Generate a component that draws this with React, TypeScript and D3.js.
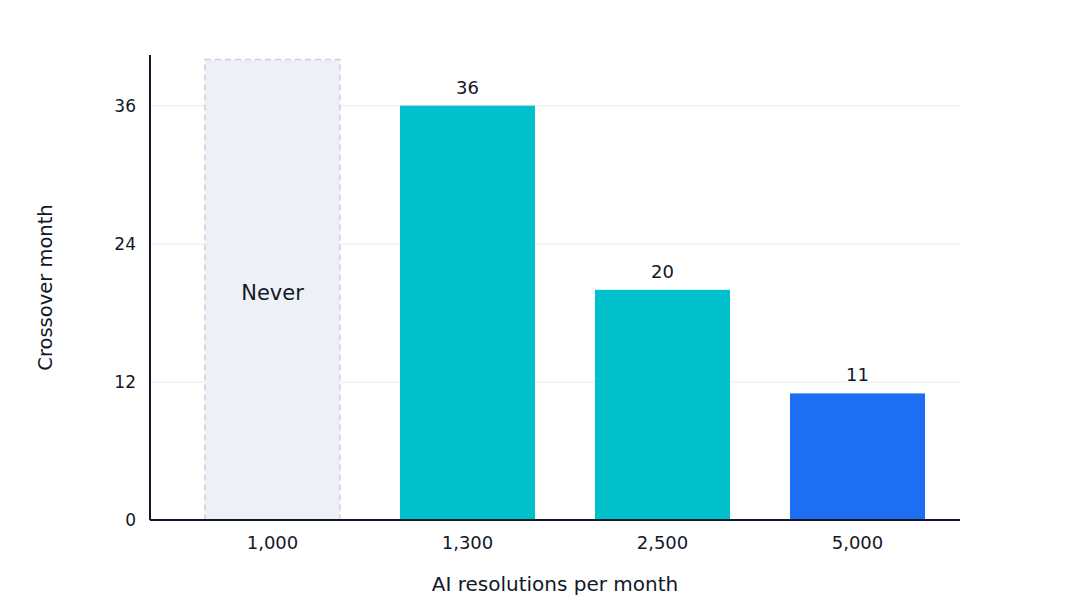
import { useEffect, useRef } from "react"
import * as d3 from "d3"

// categories and values
const volumes: string[] = ["1,000", "1,300", "2,500", "5,000"]
const crossover: (number | null)[] = [null, 36, 20, 11]
const barColors: string[] = ["#EDF0F5", "#00C1CB", "#00C1CB", "#1D6EF2"]
const yTicks: number[] = [0, 12, 24, 36]
const neverHeight = 40
const yMax = 40.4

export default function App() {
  const svgRef = useRef<SVGSVGElement>(null)

  useEffect(() => {
    if (!svgRef.current) return
    const svg = d3.select(svgRef.current)
    svg.selectAll("*").remove()

    const width = 1088
    const height = 608
    const plot = { left: 150, right: 960, top: 55, bottom: 520 }
    const font = "'DejaVu Sans', sans-serif"
    const ink = "#111827"

    svg.attr("width", width).attr("height", height).attr("viewBox", [0, 0, width, height])

    const x = d3
      .scaleBand<string>()
      .domain(volumes)
      .range([175, 955])
      .paddingInner(60 / 195)
      .paddingOuter(30 / 195)

    const y = d3.scaleLinear().domain([0, yMax]).range([plot.bottom, plot.top])

    // gridlines
    svg
      .append("g")
      .selectAll("line")
      .data(yTicks.filter((t) => t > 0))
      .join("line")
      .attr("x1", plot.left)
      .attr("x2", plot.right)
      .attr("y1", (d) => y(d))
      .attr("y2", (d) => y(d))
      .attr("stroke", "#F0F0F0")
      .attr("stroke-width", 1.5)

    // bars
    const data = volumes.map((v, i) => ({ v, val: crossover[i], color: barColors[i] }))

    svg
      .append("g")
      .selectAll("rect")
      .data(data)
      .join("rect")
      .attr("x", (d) => x(d.v)!)
      .attr("width", x.bandwidth())
      .attr("y", (d) => y(d.val ?? neverHeight))
      .attr("height", (d) => y(0) - y(d.val ?? neverHeight))
      .attr("fill", (d) => d.color)
      .attr("stroke", (d) => (d.val === null ? "#C9D1DC" : "none"))
      .attr("stroke-width", 1.5)
      .attr("stroke-dasharray", (d) => (d.val === null ? "6,4" : null))

    // value labels
    svg
      .append("g")
      .selectAll("text")
      .data(data)
      .join("text")
      .attr("x", (d) => x(d.v)! + x.bandwidth() / 2)
      .attr("y", (d) => (d.val === null ? y(20) + 3 : y(d.val) - 12))
      .attr("dy", (d) => (d.val === null ? "0.35em" : null))
      .attr("text-anchor", "middle")
      .attr("font-family", font)
      .attr("font-size", (d) => (d.val === null ? 21 : 18))
      .attr("fill", ink)
      .text((d) => (d.val === null ? "Never" : String(d.val)))

    // y axis
    const yAxis = svg
      .append("g")
      .attr("transform", `translate(${plot.left},0)`)
      .call(d3.axisLeft(y).tickValues(yTicks).tickSize(0).tickPadding(14))
    yAxis.select(".domain").remove()
    yAxis.selectAll("text").attr("font-family", font).attr("font-size", 17).attr("fill", ink)

    svg
      .append("line")
      .attr("x1", plot.left)
      .attr("x2", plot.left)
      .attr("y1", plot.top)
      .attr("y2", plot.bottom)
      .attr("stroke", ink)
      .attr("stroke-width", 2)

    // x axis
    const xAxis = svg
      .append("g")
      .attr("transform", `translate(0,${plot.bottom})`)
      .call(d3.axisBottom(x).tickSize(0).tickPadding(16))
    xAxis.select(".domain").remove()
    xAxis.selectAll("text").attr("font-family", font).attr("font-size", 18).attr("fill", ink)

    svg
      .append("line")
      .attr("x1", plot.left)
      .attr("x2", plot.right)
      .attr("y1", plot.bottom)
      .attr("y2", plot.bottom)
      .attr("stroke", ink)
      .attr("stroke-width", 2)

    // axis titles
    svg
      .append("text")
      .attr("x", (plot.left + plot.right) / 2)
      .attr("y", 591)
      .attr("text-anchor", "middle")
      .attr("font-family", font)
      .attr("font-size", 20)
      .attr("fill", ink)
      .text("AI resolutions per month")

    svg
      .append("text")
      .attr("transform", `translate(52,${(plot.top + plot.bottom) / 2}) rotate(-90)`)
      .attr("text-anchor", "middle")
      .attr("font-family", font)
      .attr("font-size", 19.5)
      .attr("fill", ink)
      .text("Crossover month")
  }, [])

  return (
    <div style={{ width: 1088, height: 608, margin: -8 }}>
      <svg ref={svgRef} style={{ display: "block" }} />
    </div>
  )
}
